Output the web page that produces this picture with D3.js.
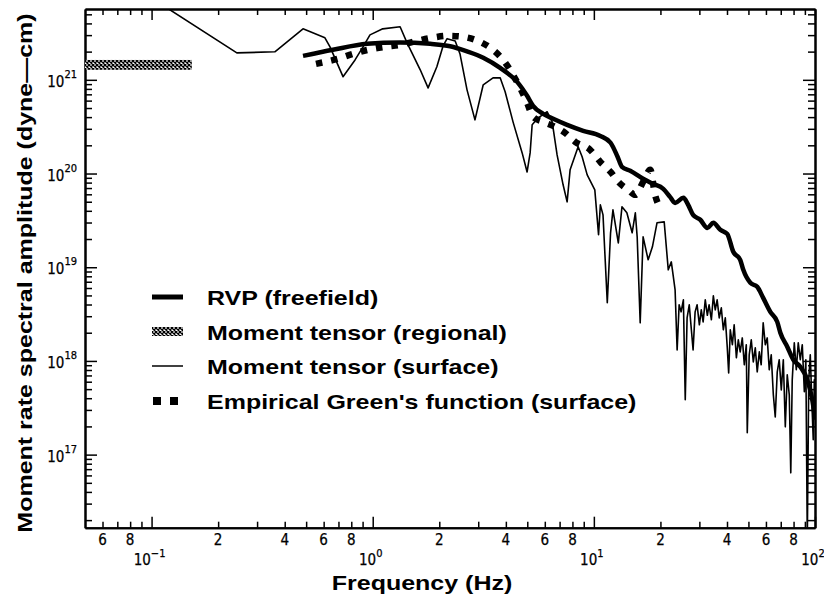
<!DOCTYPE html>
<html>
<head>
<meta charset="utf-8">
<script src="https://cdn.jsdelivr.net/npm/d3@7"></script>
<style>
    body { margin: 0; background: #fff; }
    svg { display: block; }
    .axis .domain { stroke: #000; stroke-width: 2; }
    .axis .tick line { stroke: #000; stroke-width: 1.5; }
    .ticklabel { font-family: "Liberation Sans Narrow", "DejaVu Sans Condensed", sans-serif; fill: #000; stroke: #000; stroke-width: 0.25; }
    .bigtext { font-family: "Liberation Sans", Arial, sans-serif; font-weight: bold; font-size: 21px; fill: #000; }
</style>
</head>
<body>
<svg class="spectra"></svg>
<script>
// RVP (freefield): frequency (Hz) and moment rate amplitude (dyne-cm)
var rvpFreq = [0.484, 0.661, 0.942, 1.33, 1.82, 2.24, 2.67, 3.16, 3.77, 4.50, 4.99, 5.31, 5.90, 6.55, 7.57, 8.95,
    10.7, 11.9, 12.8, 13.4, 14.6, 16.7, 18.5, 20.6, 22.1, 23.3, 25.4, 26.7, 28.1, 30.3, 32.6, 34.7, 37.3, 40.1,
    42.7, 45.9, 47.4, 51.0, 54.8, 58.3, 62.8, 67.5, 69.7, 75.0, 79.8, 85.8, 92.3, 97.2, 100];
var rvpAmp = [1.80e21, 2.09e21, 2.42e21, 2.51e21, 2.42e21, 2.28e21, 2.01e21, 1.72e21, 1.34e21, 9.5e20, 6.75e20,
    5.28e20, 4.34e20, 3.84e20, 3.31e20, 2.86e20, 2.52e20, 2.13e20, 1.51e20, 1.18e20, 1.07e20, 8.78e19, 7.76e19,
    6.87e19, 5.64e19, 4.86e19, 5.51e19, 4.63e19, 3.62e19, 3.21e19, 2.63e19, 2.98e19, 2.51e19, 2.27e19, 1.46e19,
    1.20e19, 9.38e18, 6.82e18, 6.18e18, 4.71e18, 3.34e18, 2.61e18, 2.0e18, 1.41e18, 1.03e18, 8.65e17, 6.28e17,
    3.85e17, 2.47e17];

// Empirical Green's function (surface)
var egfFreq = [0.554, 0.697, 0.815, 0.952, 1.14, 1.33, 1.59, 1.85, 2.19, 2.56, 3.06, 3.50, 3.89, 4.31, 4.64, 4.99,
    5.31, 5.90, 6.68, 7.41, 8.23, 9.62, 10.7, 11.9, 12.9, 14.3, 15.4, 16.7, 18.0, 18.9, 19.7];
var egfAmp = [1.48e21, 1.68e21, 1.89e21, 2.09e21, 2.25e21, 2.36e21, 2.61e21, 2.81e21, 2.95e21, 2.88e21, 2.54e21,
    2.09e21, 1.63e21, 1.13e21, 8.2e20, 5.68e20, 4.03e20, 3.56e20, 3.15e20, 2.72e20, 2.18e20, 1.79e20, 1.33e20,
    1.04e20, 8.15e19, 6.70e19, 5.93e19, 8.15e19, 1.095e20, 5.93e19, 4.52e19];

// Moment tensor (surface)
var mtsFreq = [0.098, 0.243, 0.361, 0.484, 0.608, 0.641, 0.734, 0.832, 0.904, 0.972,
    1.11, 1.33, 1.43, 1.64, 1.78, 1.95, 2.08, 2.17, 2.36, 2.48,
    2.67, 2.90, 3.16, 3.50, 3.77, 3.97, 4.31, 4.74, 4.99, 5.15,
    5.26, 5.60, 6.15, 6.48, 6.82, 7.26, 7.57, 7.81, 8.49, 8.85,
    9.33, 10.1, 10.5, 10.7, 11.0, 11.5, 11.9, 12.2, 12.9, 13.4,
    14.1, 14.9, 15.4, 15.7, 16.2, 16.7, 17.6, 18.4, 19.3,
    20.8, 21.7, 22.4, 22.85, 23.3, 23.8, 24.3, 24.8, 25.4, 25.9,
    26.4, 27.0, 27.6, 28.1, 28.7, 29.3, 30.0, 30.6, 31.2, 31.9,
    32.6, 33.2, 34.0, 34.7, 35.4, 36.1, 36.9, 37.7, 38.5, 39.3,
    40.1, 40.7, 41.4, 42.3, 43.1, 44.1, 45.0, 45.9, 46.9, 47.9,
    48.9, 49.4, 50.4, 51.5, 52.6, 53.7, 54.8, 56.0, 57.1, 58.3,
    59.6, 60.8, 62.1, 63.4, 64.8, 66.1, 67.5, 68.9, 70.4, 71.9,
    73.4, 74.9, 76.5, 77.7, 78.9, 80.6, 82.3, 84.0, 85.8, 87.6,
    89.5, 90.9, 92.3, 93.7, 95.2, 96.7, 98.2, 99.3, 100];
var mtsAmp = [7.7e21, 1.94e21, 1.99e21, 3.5e21, 2.81e21, 2.25e21, 1.08e21, 1.63e21, 2.25e21, 3.02e21,
    3.5e21, 3.68e21, 2.48e21, 1.28e21, 8.2e20, 1.38e21, 2.3e21, 2.75e21, 2.6e21, 1.9e21,
    7.82e20, 3.74e20, 8.85e20, 1.05e21, 1.05e21, 7.45e20, 3.56e20, 1.66e20, 1.04e20, 1.66e20,
    3.31e20, 3.93e20, 4.56e20, 3.56e20, 1.58e20, 7.58e19, 4.99e19, 1.10e20, 1.93e20, 1.51e20,
    9.68e19, 6.70e19, 2.22e19, 4.63e19, 3.62e19, 4.17e18, 2.33e19, 4.10e19, 1.82e19, 4.41e19,
    3.81e19, 2.33e19, 3.81e19, 2.11e19, 2.55e18, 2.11e19, 1.20e19, 1.65e19, 2.98e19,
    3.05e19, 9.38e18, 1.14e19, 8.10e18, 5.74e18, 1.31e18, 3.97e18, 3.34e18, 4.49e18, 3.85e17,
    2.88e18, 3.97e18, 2.15e18, 1.31e18, 3.34e18, 3.97e18, 2.43e18, 3.51e18, 2.61e18, 4.49e18,
    3.07e18, 3.97e18, 2.75e18, 4.95e18, 3.51e18, 4.49e18, 2.88e18, 3.69e18, 2.15e18, 2.88e18,
    1.41e18, 7.46e17, 2.15e18, 1.49e18, 2.43e18, 1.08e18, 1.68e18, 1.25e18, 1.76e18, 9.09e17,
    1.49e18, 1.71e17, 1.16e18, 1.68e18, 9.78e17, 1.38e18, 7.65e17, 1.25e18, 9.09e17, 2.55e18,
    1.49e18, 1.76e18, 8.04e17, 1.16e18, 4.35e17, 2.53e17, 7.65e17, 1.03e18, 4.91e17, 1.03e18,
    1.98e17, 7.10e17, 4.35e17, 6.39e16, 6.28e17, 1.56e18, 8.04e17, 1.56e18, 1.03e18, 1.49e18,
    4.68e17, 1.03e18, 1.23e16, 6.28e17, 1.16e18, 3.85e17, 1.44e17, 6.28e17, 2.35e17];

// Moment tensor (regional): frequency band and amplitude band
var regionalFreq = [0.05, 0.152];
var regionalAmp = [1.28e21, 1.63e21];

// Tick labels
var xMajorTicks = [0.1, 1, 10, 100];
var xMajorExp = ['\u22121', '0', '1', '2'];
var xLabelTicks = [0.06, 0.08, 0.2, 0.4, 0.6, 0.8, 2, 4, 6, 8, 20, 40, 60, 80];
var xLabelText = ['6', '8', '2', '4', '6', '8', '2', '4', '6', '8', '2', '4', '6', '8'];
var yMajorTicks = [1e17, 1e18, 1e19, 1e20, 1e21];
var yMajorExp = ['17', '18', '19', '20', '21'];

var legendLabels = ['RVP (freefield)', 'Moment tensor (regional)', 'Moment tensor (surface)',
    "Empirical Green's function (surface)"];

var xTitle = 'Frequency (Hz)';
var yTitle = 'Moment rate spectral amplitude (dyne\u2014cm)';

drawChart('spectra');

function drawChart(areaID) {
    var margin = { top: 9, right: 9, bottom: 76, left: 85 },
        totalWidth = 824,
        totalHeight = 604,
        width = totalWidth - margin.left - margin.right,
        height = totalHeight - margin.top - margin.bottom - 0.3;
    var stretch = 1.19;

    var x = d3.scaleLog().domain([0.05, 100]).range([0, width]);
    var y = d3.scaleLog().domain([1.66e16, 5.7e21]).range([height, 0]);

    var svg = d3.select('.' + areaID)
        .attr('width', totalWidth)
        .attr('height', totalHeight);

    var defs = svg.append('defs');
    defs.append('clipPath')
        .attr('id', 'plotclip')
        .append('rect')
        .attr('width', width)
        .attr('height', height);

    // cross hatch for the regional band
    var pat = defs.append('pattern')
        .attr('id', 'hatch')
        .attr('patternUnits', 'userSpaceOnUse')
        .attr('width', 4)
        .attr('height', 4);
    pat.append('rect').attr('width', 4).attr('height', 4).attr('fill', '#fff');
    pat.append('path').attr('d', 'M0,0L4,4M4,0L0,4').attr('stroke', '#000').attr('stroke-width', 1.3);

    var chart = svg.append('g')
        .attr('transform', 'translate(' + margin.left + ',' + margin.top + ')');

    // minor tick values
    var xMinor = [], yMinor = [];
    for (var e = -2; e <= 1; e++) {
        for (var m = 2; m <= 9; m++) {
            var v = m * Math.pow(10, e);
            if (v > 0.05 && v < 100) xMinor.push(v);
        }
    }
    for (var e2 = 16; e2 <= 21; e2++) {
        for (var m2 = 2; m2 <= 9; m2++) {
            var v2 = m2 * Math.pow(10, e2);
            if (v2 > y.domain()[0] && v2 < y.domain()[1]) yMinor.push(v2);
        }
    }

    // axes, ticks pointing inward on all four sides
    function addAxis(axisFn, scale, values, size, transform) {
        chart.append('g')
            .attr('class', 'axis')
            .attr('transform', transform)
            .call(axisFn(scale).tickValues(values).tickSize(-size).tickSizeOuter(0).tickFormat(''));
    }
    addAxis(d3.axisBottom, x, xMinor, 6, 'translate(0,' + height + ')');
    addAxis(d3.axisBottom, x, xMajorTicks, 11, 'translate(0,' + height + ')');
    addAxis(d3.axisTop, x, xMinor, 6, 'translate(0,0)');
    addAxis(d3.axisTop, x, xMajorTicks, 11, 'translate(0,0)');
    addAxis(d3.axisLeft, y, yMinor, 7, 'translate(0,0)');
    addAxis(d3.axisLeft, y, yMajorTicks, 12, 'translate(0,0)');
    addAxis(d3.axisRight, y, yMinor, 7, 'translate(' + width + ',0)');
    addAxis(d3.axisRight, y, yMajorTicks, 12, 'translate(' + width + ',0)');

    // x tick labels
    chart.selectAll('.xminorlabel')
        .data(xLabelTicks)
        .enter()
        .append('text')
        .attr('class', 'ticklabel')
        .attr('x', d => x(d))
        .attr('y', height + 17)
        .attr('text-anchor', 'middle')
        .style('font-size', '15px')
        .text((d, i) => xLabelText[i]);

    var xMaj = chart.selectAll('.xmajorlabel')
        .data(xMajorTicks)
        .enter()
        .append('text')
        .attr('class', 'ticklabel')
        .attr('x', d => x(d) - 2)
        .attr('y', height + 37)
        .attr('text-anchor', 'middle')
        .style('font-size', '15px');
    xMaj.append('tspan').text('10');
    xMaj.append('tspan')
        .attr('dy', -8)
        .style('font-size', '11px')
        .text((d, i) => xMajorExp[i]);

    // y tick labels
    var yMaj = chart.selectAll('.ymajorlabel')
        .data(yMajorTicks)
        .enter()
        .append('text')
        .attr('class', 'ticklabel')
        .attr('x', -8)
        .attr('y', d => y(d) + 7)
        .attr('text-anchor', 'end')
        .style('font-size', '15px');
    yMaj.append('tspan').text('10');
    yMaj.append('tspan')
        .attr('dy', -9)
        .style('font-size', '11px')
        .text((d, i) => yMajorExp[i]);

    // data layer
    var plot = chart.append('g').attr('clip-path', 'url(#plotclip)');

    plot.append('rect')
        .attr('x', x(regionalFreq[0]))
        .attr('y', y(regionalAmp[1]))
        .attr('width', x(regionalFreq[1]) - x(regionalFreq[0]))
        .attr('height', y(regionalAmp[0]) - y(regionalAmp[1]))
        .attr('fill', 'url(#hatch)');

    var valueline = d3.line()
        .x(d => x(d[0]))
        .y(d => y(d[1]));

    plot.append('path')
        .datum(d3.zip(mtsFreq, mtsAmp))
        .attr('d', valueline)
        .attr('fill', 'none')
        .attr('stroke', '#000')
        .attr('stroke-width', 1.6)
        .attr('stroke-linejoin', 'round');

    plot.append('path')
        .datum(d3.zip(egfFreq, egfAmp))
        .attr('d', valueline.curve(d3.curveMonotoneX))
        .attr('fill', 'none')
        .attr('stroke', '#000')
        .attr('stroke-width', 6.5)
        .attr('stroke-dasharray', '6.5,9');

    plot.append('path')
        .datum(d3.zip(rvpFreq, rvpAmp))
        .attr('d', valueline.curve(d3.curveMonotoneX))
        .attr('fill', 'none')
        .attr('stroke', '#000')
        .attr('stroke-width', 4.5)
        .attr('stroke-linejoin', 'round');

    // legend
    var legendY = [297, 331.5, 366, 401];
    var legend = chart.append('g').attr('transform', 'translate(' + (152 - margin.left) + ',' + (-margin.top) + ')');
    legend.append('line')
        .attr('x1', 0).attr('x2', 31)
        .attr('y1', legendY[0]).attr('y2', legendY[0])
        .attr('stroke', '#000').attr('stroke-width', 5);
    legend.append('rect')
        .attr('x', 0).attr('y', legendY[1] - 4.5)
        .attr('width', 31).attr('height', 9)
        .attr('fill', 'url(#hatch)');
    legend.append('line')
        .attr('x1', 0).attr('x2', 31)
        .attr('y1', legendY[2]).attr('y2', legendY[2])
        .attr('stroke', '#000').attr('stroke-width', 1.5);
    legend.append('line')
        .attr('x1', 1).attr('x2', 31)
        .attr('y1', legendY[3]).attr('y2', legendY[3])
        .attr('stroke', '#000').attr('stroke-width', 8)
        .attr('stroke-dasharray', '8,9');

    legend.selectAll('.legendtext')
        .data(legendLabels)
        .enter()
        .append('text')
        .attr('class', 'bigtext')
        .attr('transform', (d, i) => 'translate(55,' + (legendY[i] + 8) + ') scale(' + stretch + ',1)')
        .text(d => d);

    // axis titles
    svg.append('text')
        .attr('class', 'bigtext')
        .attr('text-anchor', 'middle')
        .attr('transform', 'translate(422,590) scale(' + stretch + ',1)')
        .text(xTitle);

    svg.append('text')
        .attr('class', 'bigtext')
        .attr('text-anchor', 'middle')
        .attr('transform', 'translate(32,273) rotate(-90) scale(' + stretch + ',1)')
        .text(yTitle);
}
</script>
</body>
</html>
